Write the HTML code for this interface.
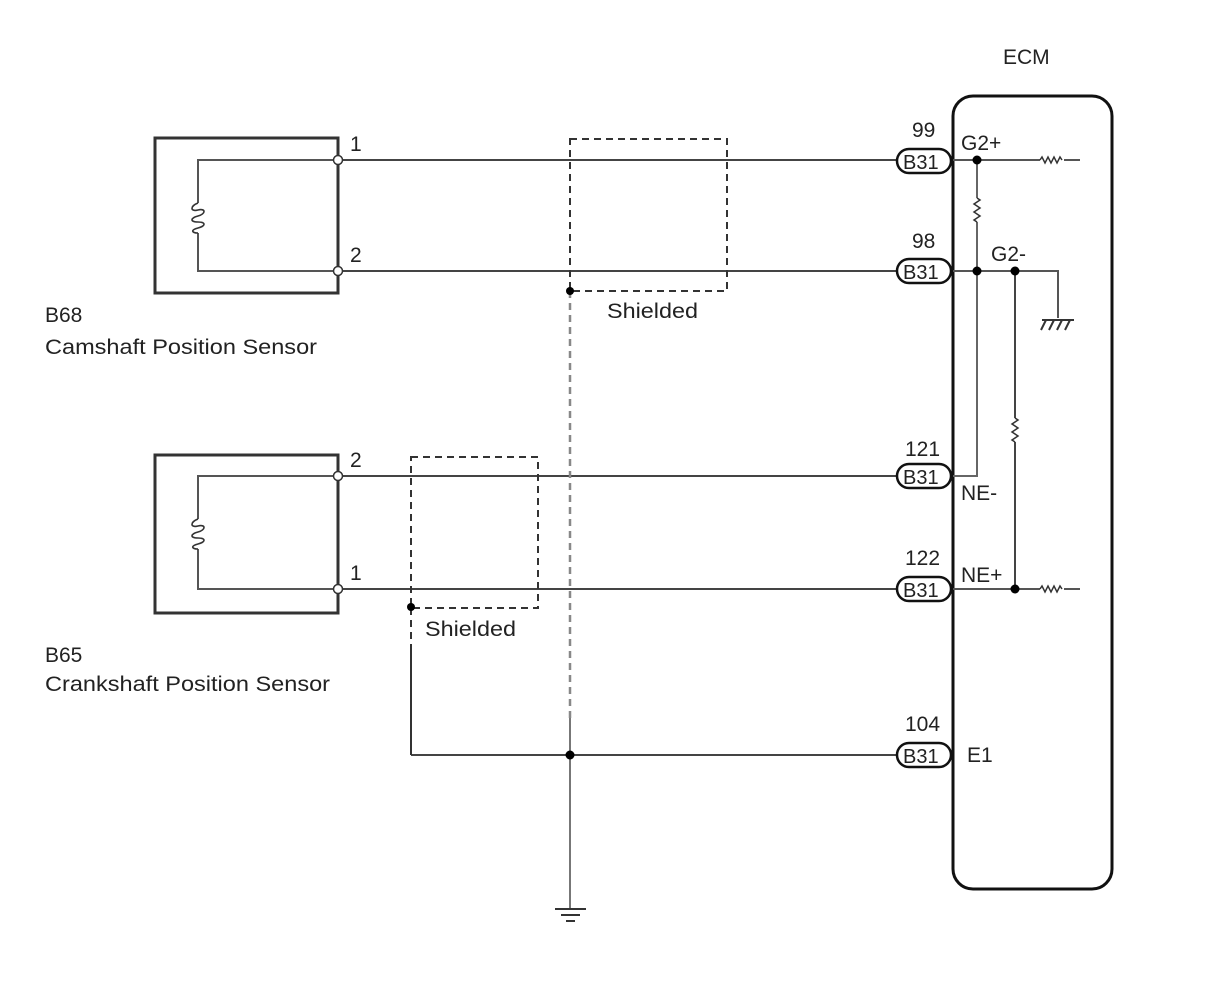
<!DOCTYPE html>
<html><head><meta charset="utf-8"><style>
html,body{margin:0;padding:0;background:#fff}
svg{display:block}
text{font-family:"Liberation Sans",Arial,sans-serif;fill:#222}
</style></head><body>
<svg width="1210" height="986" viewBox="0 0 1210 986" xmlns="http://www.w3.org/2000/svg">
<g fill="none" stroke="#333" stroke-width="2">
<rect x="155" y="138" width="183" height="155" stroke-width="3"/>
<rect x="155" y="455" width="183" height="158" stroke-width="3"/>
<path d="M338 160 H198 V203 M198 233 V271 H338" stroke="#555"/>
<path d="M338 476 H198 V519 M198 549 V589 H338" stroke="#555"/>
<path d="M198 203 C190 206,190 212,198 210 C206 208,206 214,198 216 C190 218,190 222,198 222 C206 222,206 226,198 228 C190 230,192 233,198 233" stroke-width="1.6"/>
<path d="M198 519 C190 522,190 528,198 526 C206 524,206 530,198 532 C190 534,190 538,198 538 C206 538,206 542,198 544 C190 546,192 549,198 549" stroke-width="1.6"/>
<path d="M342 160 H897 M342 271 H897 M342 476 H897 M342 589 H897" stroke="#444"/>
<path d="M411 755 H897" stroke="#444"/>
<rect x="570" y="139" width="157" height="152" stroke-dasharray="7,5"/>
<rect x="411" y="457" width="127" height="151" stroke-dasharray="7,5"/>
<path d="M570 291 V718" stroke="#888" stroke-dasharray="7,5" stroke-width="2.5"/>
<path d="M570 718 V909" stroke="#777"/>
<path d="M411 608 V650" stroke-dasharray="7,5"/>
<path d="M411 650 V755"/>
<path d="M555 909 H586 M561 915 H580 M566 921 H575" stroke-width="2"/>
<rect x="953" y="96" width="159" height="793" rx="20" stroke="#111" stroke-width="3"/>
<path d="M953 160 H1040 M1064 160 H1080" stroke="#555"/>
<path d="M1040 160 l2 -3 l3 6 l3 -6 l3 6 l3 -6 l3 6 l3 -6 l2 3" stroke-width="1.5"/>
<path d="M977 160 V198 M977 222 V476 H953" stroke="#666"/>
<path d="M977 198 l3 2 l-6 4 l6 4 l-6 4 l6 4 l-6 4 l3 2" stroke-width="1.5"/>
<path d="M953 271 H1058 V318" stroke="#555"/>
<path d="M1042 320 H1074 M1046 320 l-5 10 M1054 320 l-5 10 M1062 320 l-5 10 M1070 320 l-5 10" stroke-width="2"/>
<path d="M1015 271 V418 M1015 442 V589" stroke="#444"/>
<path d="M1015 418 l3 2 l-6 4 l6 4 l-6 4 l6 4 l-6 4 l3 2" stroke-width="1.5"/>
<path d="M953 589 H1040 M1064 589 H1080" stroke="#555"/>
<path d="M1040 589 l2 -3 l3 6 l3 -6 l3 6 l3 -6 l3 6 l3 -6 l2 3" stroke-width="1.5"/>
<g fill="#fff" stroke="#111" stroke-width="2.5">
<rect x="897" y="149" width="54" height="24" rx="12"/>
<rect x="897" y="259" width="54" height="24" rx="12"/>
<rect x="897" y="464" width="54" height="24" rx="12"/>
<rect x="897" y="577" width="54" height="24" rx="12"/>
<rect x="897" y="743" width="54" height="24" rx="12"/>
</g>
<g fill="#fff" stroke="#333" stroke-width="1.5">
<circle cx="338" cy="160" r="4.5"/><circle cx="338" cy="271" r="4.5"/>
<circle cx="338" cy="476" r="4.5"/><circle cx="338" cy="589" r="4.5"/>
</g>
</g>
<g fill="#000">
<circle cx="570" cy="291" r="4"/><circle cx="411" cy="607" r="4"/><circle cx="570" cy="755" r="4.5"/>
<circle cx="977" cy="160" r="4.5"/><circle cx="977" cy="271" r="4.5"/><circle cx="1015" cy="271" r="4.5"/><circle cx="1015" cy="589" r="4.5"/>
</g>
<g font-size="21">
<text x="1003" y="64">ECM</text>
<text x="350" y="151">1</text><text x="350" y="262">2</text>
<text x="350" y="467">2</text><text x="350" y="580">1</text>
<text x="607" y="318" textLength="91" lengthAdjust="spacingAndGlyphs">Shielded</text>
<text x="425" y="636" textLength="91" lengthAdjust="spacingAndGlyphs">Shielded</text>
<text x="45" y="322">B68</text>
<text x="45" y="354" textLength="272" lengthAdjust="spacingAndGlyphs">Camshaft Position Sensor</text>
<text x="45" y="662">B65</text>
<text x="45" y="691" textLength="285" lengthAdjust="spacingAndGlyphs">Crankshaft Position Sensor</text>
<text x="912" y="137">99</text><text x="912" y="248">98</text>
<text x="905" y="456">121</text><text x="905" y="565">122</text><text x="905" y="731">104</text>
<text x="961" y="150">G2+</text><text x="991" y="261">G2-</text>
<text x="961" y="500">NE-</text><text x="961" y="582">NE+</text><text x="967" y="762">E1</text>
<g font-size="20"><text x="903" y="169">B31</text><text x="903" y="279">B31</text><text x="903" y="484">B31</text><text x="903" y="597">B31</text><text x="903" y="763">B31</text></g>
</g>
</svg>
</body></html>
